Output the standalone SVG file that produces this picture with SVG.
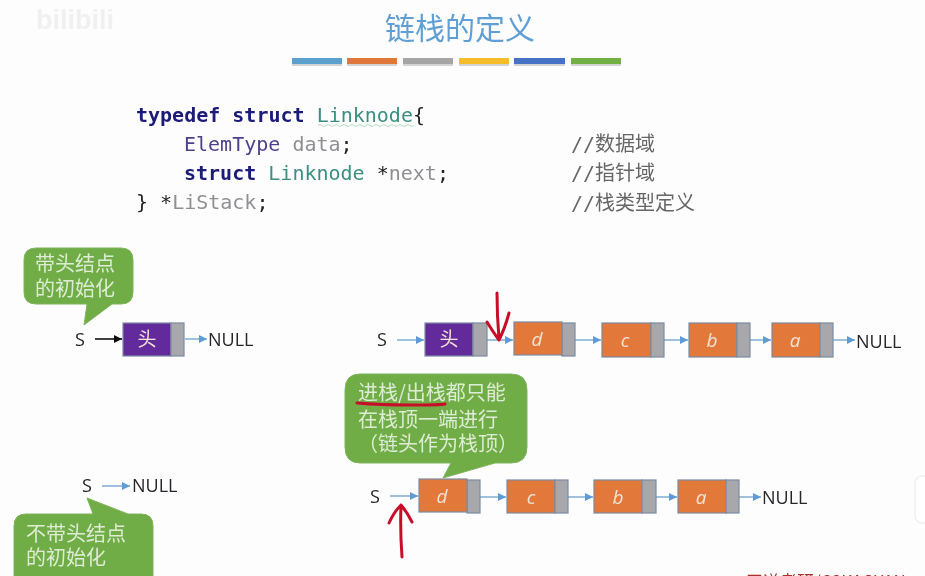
<svg xmlns="http://www.w3.org/2000/svg" width="925" height="576" viewBox="0 0 925 576">
<style>
text{font-family:"Noto Sans CJK SC","Liberation Sans",sans-serif}
.code{font-family:"DejaVu Sans Mono","Noto Sans CJK SC",monospace;font-size:20px}
.b{font-weight:bold;fill:#1a1a78}
.t{fill:#3a8f80}
.p{fill:#4f3f8c}
.g{fill:#8f8f93}
.k{fill:#222}
.cm{fill:#666;font-size:20px}
.lab{font-family:"Open Sans","Liberation Sans",sans-serif;font-size:18px;fill:#26262a}
.nv{font-size:19px;fill:#f3e3d6;text-anchor:middle}
.nl{font-family:"Open Sans","Liberation Sans",sans-serif;font-style:italic}
.pu{fill:#642a9c;stroke:#7b8aa0;stroke-width:1.2}
.or{fill:#e2793a;stroke:#7b8aa0;stroke-width:1.2}
.gr{fill:#a8a8ac;stroke:#7b8aa0;stroke-width:1.2}
.bub{fill:#70ad47;stroke:#7fb45c;stroke-width:1}
.bt{font-size:20px;fill:#deecd4}
.c line{stroke:#88b2d6;stroke-width:1.6;marker-end:url(#ah)}
.ink{fill:none;stroke:#c8102a;stroke-width:3;stroke-linecap:round;stroke-linejoin:round}
</style>
<defs>
<marker id="ah" markerUnits="userSpaceOnUse" markerWidth="9" markerHeight="9" refX="8" refY="4.5" orient="auto"><path d="M0 0.5L8 4.5L0 8.500Z" fill="#5b9bd5"/></marker>
<marker id="ak" markerUnits="userSpaceOnUse" markerWidth="9" markerHeight="9" refX="8" refY="4.5" orient="auto"><path d="M0 0.5L8 4.5L0 8.500Z" fill="#111"/></marker>
<filter id="soft" x="0" y="0" width="100%" height="100%" filterUnits="objectBoundingBox"><feGaussianBlur stdDeviation="0.45"/></filter>
</defs>
<g filter="url(#soft)">
<rect width="925" height="576" fill="#fdfdfe"/>
<text x="36" y="29" font-size="27" font-weight="bold" fill="#f0f0f0" style="font-family:'Liberation Sans',sans-serif">bilibili</text>
<text id="title" x="460" y="39" font-size="30" fill="#5f9fd3" text-anchor="middle">链栈的定义</text>
<g id="bars">
<rect x="292" y="60" width="329" height="6" fill="#d4d4d4"/>
<rect x="292" y="58" width="50" height="6" fill="#5ba0d0"/>
<rect x="347" y="58" width="50" height="6" fill="#e0783a"/>
<rect x="403" y="58" width="50" height="6" fill="#a5a5a5"/>
<rect x="459" y="58" width="50" height="6" fill="#f5bd2a"/>
<rect x="514" y="58" width="51" height="6" fill="#4472c4"/>
<rect x="571" y="58" width="50" height="6" fill="#70b044"/>
<rect x="342" y="58" width="5" height="8" fill="#fdfdfe"/>
<rect x="397" y="58" width="6" height="8" fill="#fdfdfe"/>
<rect x="453" y="58" width="6" height="8" fill="#fdfdfe"/>
<rect x="509" y="58" width="5" height="8" fill="#fdfdfe"/>
<rect x="565" y="58" width="6" height="8" fill="#fdfdfe"/>
</g>
<g id="code">
<text class="code" x="136" y="122"><tspan class="b">typedef struct </tspan><tspan class="t">Linknode</tspan><tspan class="k">{</tspan></text>
<text class="code" x="184" y="151"><tspan class="p">ElemType </tspan><tspan class="g">data</tspan><tspan class="k">;</tspan></text>
<text class="code" x="184" y="180"><tspan class="b">struct </tspan><tspan class="t">Linknode </tspan><tspan class="k">*</tspan><tspan class="g">next</tspan><tspan class="k">;</tspan></text>
<text class="code" x="136" y="209"><tspan class="k">} *</tspan><tspan class="g">LiStack</tspan><tspan class="k">;</tspan></text>
<path d="M318 125.500q2-2 4 0t4 0t4 0t4 0t4 0t4 0t4 0t4 0t4 0t4 0t4 0t4 0t4 0t4 0t4 0t4 0t4 0t4 0t4 0t4 0t4 0t4 0t4 0t4 0" fill="none" stroke="#b8dcc0" stroke-width="1"/>
<text class="code cm" x="571" y="151">//数据域</text>
<text class="code cm" x="571" y="180">//指针域</text>
<text class="code cm" x="571" y="210">//栈类型定义</text>
</g>
<g id="connectors" class="c">
<line x1="95" y1="339" x2="122" y2="339" style="stroke:#111;marker-end:url(#ak)"/>
<line x1="185" y1="339" x2="207" y2="339"/>
<line x1="397" y1="340" x2="424" y2="340"/>
<line x1="487" y1="340" x2="513" y2="340"/>
<line x1="575" y1="340" x2="601" y2="340"/>
<line x1="664" y1="340" x2="688" y2="340"/>
<line x1="750" y1="340" x2="771" y2="340"/>
<line x1="833" y1="340" x2="855" y2="340"/>
<line x1="102" y1="486" x2="130" y2="486"/>
<line x1="390" y1="496" x2="418" y2="496"/>
<line x1="480" y1="497" x2="506" y2="497"/>
<line x1="568" y1="497" x2="593" y2="497"/>
<line x1="656" y1="497" x2="677" y2="497"/>
<line x1="739" y1="497" x2="761" y2="497"/>
</g>
<g id="labels">
<text class="lab" x="75" y="346">S</text>
<text class="lab" x="208" y="346">NULL</text>
<text class="lab" x="377" y="346">S</text>
<text class="lab" x="856" y="348">NULL</text>
<text class="lab" x="82" y="492">S</text>
<text class="lab" x="132" y="492">NULL</text>
<text class="lab" x="370" y="503">S</text>
<text class="lab" x="762" y="504">NULL</text>
</g>
<g id="n1"><rect class="pu" x="123" y="323" width="48" height="33"/><rect class="gr" x="171" y="323" width="13" height="33"/><text class="nv" x="147" y="346">头</text></g>
<g id="n2"><rect class="pu" x="425" y="323" width="48" height="33"/><rect class="gr" x="473" y="323" width="14" height="33"/><text class="nv" x="449" y="346">头</text></g>
<g id="n3"><rect class="gr" x="562" y="323" width="13" height="33"/><rect class="or" x="514" y="322" width="48" height="33"/><text class="nv nl" x="537" y="346">d</text></g>
<g id="n4"><rect class="or" x="602" y="323" width="49" height="34"/><rect class="gr" x="651" y="323" width="13" height="34"/><text class="nv nl" x="625" y="347">c</text></g>
<g id="n5"><rect class="or" x="689" y="323" width="48" height="34"/><rect class="gr" x="737" y="323" width="13" height="34"/><text class="nv nl" x="712" y="347">b</text></g>
<g id="n6"><rect class="or" x="772" y="323" width="48" height="34"/><rect class="gr" x="820" y="323" width="13" height="34"/><text class="nv nl" x="795" y="347">a</text></g>
<g id="n7"><rect class="gr" x="467" y="480" width="13" height="33"/><rect class="or" x="419" y="479" width="48" height="33"/><text class="nv nl" x="442" y="503">d</text></g>
<g id="n8"><rect class="or" x="507" y="480" width="48" height="33"/><rect class="gr" x="555" y="480" width="13" height="33"/><text class="nv nl" x="531" y="504">c</text></g>
<g id="n9"><rect class="or" x="594" y="480" width="48" height="33"/><rect class="gr" x="642" y="480" width="14" height="33"/><text class="nv nl" x="618" y="504">b</text></g>
<g id="n10"><rect class="or" x="678" y="480" width="48" height="33"/><rect class="gr" x="726" y="480" width="13" height="33"/><text class="nv nl" x="701" y="504">a</text></g>
<g id="callout1">
<path class="bub" d="M36 248H121Q133 248 133 260V292Q133 304 121 304H112L84 325L87 304H36Q24 304 24 292V260Q24 248 36 248Z"/>
<text class="bt"><tspan x="35" y="271">带头结点</tspan><tspan x="35" y="296">的初始化</tspan></text>
</g>
<g id="callout2">
<path class="bub" d="M360 374H511Q527 374 527 390V447Q527 463 511 463H495L443 478L451 463H360Q345 463 345 447V390Q345 374 360 374Z"/>
<text class="bt"><tspan x="358" y="400">进栈/出栈都只能</tspan><tspan x="358" y="427">在栈顶一端进行</tspan><tspan x="358" y="451">（链头作为栈顶）</tspan></text>
</g>
<g id="callout3">
<path class="bub" d="M93 514L87 498L128 514H141Q153 514 153 526V590H14V526Q14 514 26 514Z"/>
<text class="bt"><tspan x="26" y="541">不带头结点</tspan><tspan x="26" y="565">的初始化</tspan></text>
</g>
<g id="ink">
<path class="ink" d="M497 293Q497 315 499 339M487 322Q493 332 499 340Q505 328 509 313"/>
<path class="ink" d="M357 403Q380 405 410 405T445 404"/>
<path class="ink" d="M402 557Q400 530 401 505M389 523Q394 512 401 505Q407 512 412 522"/>
</g>
<rect id="tab" x="915" y="476" width="20" height="47" rx="7" fill="#fff" stroke="#e8e8e8"/>
<text id="mark" x="746" y="588" font-size="17" fill="#a8332c">王道考研/CSKAOYAN</text>
</g>
</svg>
